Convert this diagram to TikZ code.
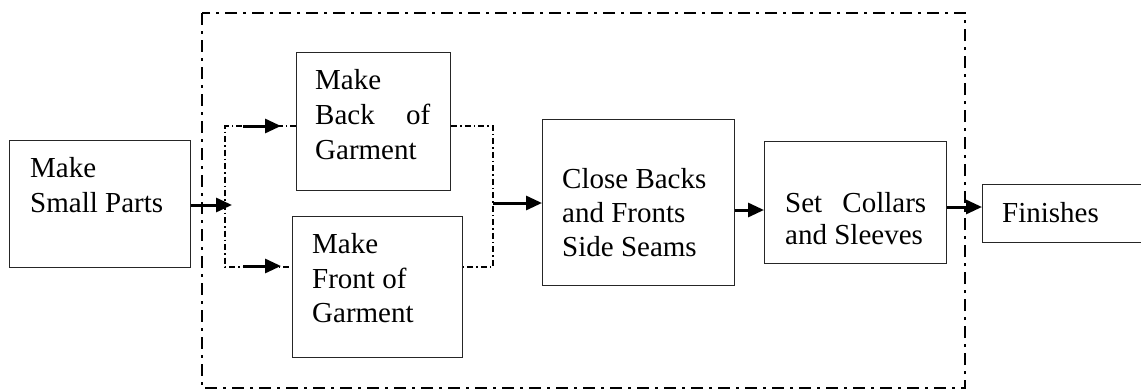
\documentclass[tikz,border=0pt]{standalone}
\usepackage{fontspec}
\setmainfont{Liberation Serif}
\usetikzlibrary{arrows.meta}
\tikzset{
  box/.style={draw=black!85, line width=1.4pt, inner sep=0pt, anchor=north west},
  txt/.style={anchor=base west, inner sep=0pt, font=\fontsize{29pt}{35pt}\selectfont},
  outerdd/.style={line width=2.8pt, dash pattern=on 12pt off 6pt on 3pt off 6pt},
  innerdd/.style={line width=1.1pt, dash pattern=on 6pt off 3pt on 1.5pt off 3pt},
  arr/.style={line width=3pt, -{Triangle[length=16pt,width=14pt]}}
}
\begin{document}
\begin{tikzpicture}[x=1pt,y=-1pt]
\useasboundingbox (0,0) rectangle (1141,391);
% outer dash-dot frame
\draw[outerdd] (202,13) rectangle (965,388);
% boxes
\node[box, minimum width=181pt, minimum height=127pt] (small) at (9,140) {};
\node[box, minimum width=154pt, minimum height=138pt] (back) at (296,52) {};
\node[box, minimum width=170pt, minimum height=141pt] (front) at (292,216) {};
\node[box, minimum width=192pt, minimum height=166pt] (close) at (542,119) {};
\node[box, minimum width=182pt, minimum height=122pt] (set) at (764,141) {};
\node[box, minimum width=170pt, minimum height=58pt] (fin) at (982,184) {};
% inner dash-dot bracket
\coordinate (tl) at (225,126);
\coordinate (bl) at (225,267);
\coordinate (tr) at (493,126);
\coordinate (br) at (493,267);
\draw[innerdd] (back.west |- tl) -- (tl) -- (bl) -- (front.west |- bl);
\draw[innerdd] (back.east |- tr) -- (tr) -- (br) -- (front.east |- br);
% texts
\node[txt] (t1) at (30,177) {Make};
\node[txt] (t2) at (30,212) {Small Parts};
\node[txt] (t3) at (315,89) {Make};
\node[txt] (t4) at (315,124) {\makebox[115pt][s]{Back\hfill of}};
\node[txt] (t5) at (315,159) {Garment};
\node[txt] (t6) at (312,253) {Make};
\node[txt] (t7) at (312,288) {Front of};
\node[txt] (t8) at (312,322) {Garment};
\node[txt] (t9) at (562,188) {Close Backs};
\node[txt] (t10) at (562,222) {and Fronts};
\node[txt] (t11) at (562,256) {Side Seams};
\node[txt] (t12) at (785,212) {\makebox[141pt][s]{Set\hfill Collars}};
\node[txt] (t13) at (785,244) {and Sleeves};
\node[txt] (t14) at (1002,222) {Finishes};
% arrows
\coordinate (a1) at (232,205);
\draw[arr] (small.east |- a1) -- (a1);
\coordinate (b0) at (243,126);
\coordinate (b1) at (281,126);
\draw[arr] (b0) -- (b1);
\coordinate (f0) at (243,266);
\coordinate (f1) at (281,266);
\draw[arr] (f0) -- (f1);
\coordinate (c0) at (493,203);
\draw[arr] (c0) -- (close.west |- c0);
\coordinate (s0) at (734,210);
\draw[arr] (close.east |- s0) -- (set.west |- s0);
\coordinate (g0) at (946,207);
\draw[arr] (set.east |- g0) -- (fin.west |- g0);
\end{tikzpicture}
\end{document}
